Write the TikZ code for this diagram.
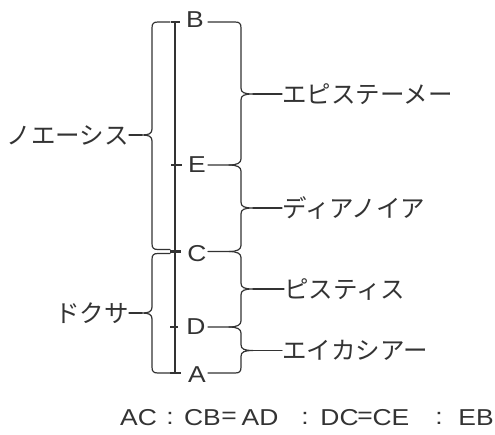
\documentclass[tikz,border=0pt]{standalone}
\usepackage{fontspec}
\setmainfont{Noto Sans CJK JP}
\newfontfamily\latf{Liberation Sans}[FakeStretch=1.15]
\definecolor{ink}{HTML}{333333}
\begin{document}
\begin{tikzpicture}[x=1pt,y=-1pt,
  jp/.style={font=\fontsize{24.5}{24.5}\selectfont, text=ink, inner sep=0pt, text height=21.5pt, text depth=3pt},
  pt/.style={font=\latf\fontsize{23}{23}\selectfont, text=ink, inner sep=0pt},
  eqsym/.style={font=\latf\fontsize{23}{23}\selectfont, text=ink, inner sep=0pt},
  brace/.style={draw=ink, line width=1.2pt, line join=round, line cap=round},
  axis/.style={draw=ink, line width=2.1pt}]
\useasboundingbox (0,0) rectangle (495,434);

% point letters
\node[pt] (B) at (195,19.5) {B};
\node[pt] (E) at (197,164.5) {E};
\node[pt] (C) at (197,254) {C};
\node[pt] (D) at (196,326.5) {D};
\node[pt] (A) at (197,375) {A};

% labels
\node[jp, anchor=west] (epi) at (282,94) {エピステーメー};
\node[jp, anchor=west] (dia) at (282,208) {ディアノイア};
\node[jp, anchor=west] (pis) at (284,289) {ピスティス};
\node[jp, anchor=west] (eik) at (282,350.5) {エイカシアー};
\node[jp, anchor=east] (noe) at (129,135) {ノエーシス};
\node[jp, anchor=east] (dox) at (129,313) {ドクサ};

% connector coordinates
\coordinate (rB) at (208,22);
\coordinate (rE) at (208,165);
\coordinate (rC) at (208,251.5);
\coordinate (rD) at (208,327);
\coordinate (rA) at (208,373);
\coordinate (tEpi) at (253,94);
\coordinate (tDia) at (253,208);
\coordinate (tPis) at (253,289);
\coordinate (tEik) at (253,350.5);
\coordinate (tNoe) at (142,135);
\coordinate (tDox) at (142,313);

% main axis
\draw[axis] (175,22) -- (175,373);
\draw[axis] (171,22) -- (180,22);
\draw[axis] (171,165) -- (182,165);
\draw[axis] (170,251.5) -- (181,251.5);
\draw[axis] (170,327) -- (178,327);
\draw[axis] (170,373) -- (181,373);

% right braces
\draw[brace] (rB) -- (235,22) .. controls (239.5,22) and (241,23.5) .. (241,28)
  -- (241,88) .. controls (241,92.5) and (244,94) .. (tEpi)
  .. controls (244,94) and (241,95.5) .. (241,100)
  -- (241,159) .. controls (241,163) and (237,165) .. (229,165) -- (rE);
\draw[brace] (229,165) .. controls (237,165) and (241,167) .. (241,171)
  -- (241,202) .. controls (241,206.5) and (244,208) .. (tDia)
  .. controls (244,208) and (241,209.5) .. (241,214)
  -- (241,245.5) .. controls (241,249.5) and (237,251.5) .. (229,251.5) -- (rC);
\draw[brace] (229,251.5) .. controls (237,251.5) and (241,253.5) .. (241,257.5)
  -- (241,283) .. controls (241,287.5) and (244,289) .. (tPis)
  .. controls (244,289) and (241,290.5) .. (241,295)
  -- (241,321) .. controls (241,325) and (237,327) .. (229,327) -- (rD);
\draw[brace] (229,327) .. controls (237,327) and (241,329) .. (241,333)
  -- (241,344.5) .. controls (241,349) and (244,350.5) .. (tEik)
  .. controls (244,350.5) and (241,352) .. (241,356.5)
  -- (241,367) .. controls (241,371.5) and (239.5,373) .. (235,373) -- (rA);
\draw[brace] (tEpi) -- (epi.west);
\draw[brace] (tDia) -- (dia.west);
\draw[brace] (tPis) -- (pis.west);
\draw[brace] (tEik) -- (eik.west);

% left braces
\draw[brace] (170,22) -- (158,22) .. controls (153.5,22) and (152,23.5) .. (152,28)
  -- (152,129) .. controls (152,133.5) and (149,135) .. (tNoe)
  .. controls (149,135) and (152,136.5) .. (152,141)
  -- (152,243.5) .. controls (152,248) and (153.5,249.5) .. (158,249.5) -- (170,249.5);
\draw[brace] (170,253.5) -- (158,253.5) .. controls (153.5,253.5) and (152,255) .. (152,259.5)
  -- (152,307) .. controls (152,311.5) and (149,313) .. (tDox)
  .. controls (149,313) and (152,314.5) .. (152,319)
  -- (152,367) .. controls (152,371.5) and (153.5,373) .. (158,373) -- (170,373);
\draw[brace] (noe.east) -- (tNoe);
\draw[brace] (dox.east) -- (tDox);

% equation
\node[pt] (q1) at (138.5,418) {AC};
\node[eqsym] (q2) at (170,418) {:};
\node[pt] (q3) at (202.5,418) {CB};
\node[eqsym] (q4) at (229,418) {=};
\node[pt] (q5) at (260,418) {AD};
\node[eqsym] (q6) at (305,418) {:};
\node[pt] (q7) at (339.5,418) {DC};
\node[eqsym] (q8) at (365,418) {=};
\node[pt] (q9) at (391,418) {CE};
\node[eqsym] (q10) at (439,418) {:};
\node[pt] (q11) at (476,418) {EB};
\end{tikzpicture}
\end{document}
